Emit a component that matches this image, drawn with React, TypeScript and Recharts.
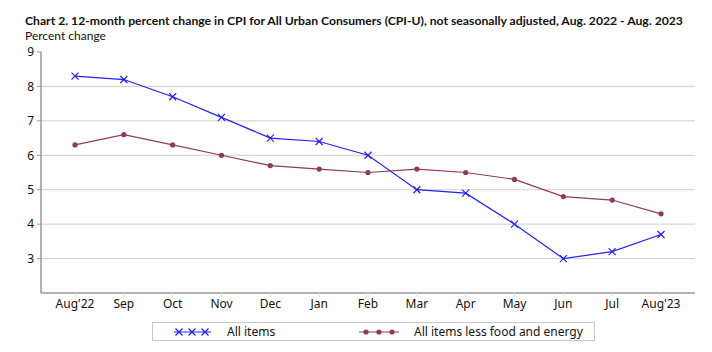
import { CartesianGrid, Line, LineChart, XAxis, YAxis } from "recharts";

const months = ["Aug'22", "Sep", "Oct", "Nov", "Dec", "Jan", "Feb", "Mar", "Apr", "May", "Jun", "Jul", "Aug'23"];
const allItems = [8.3, 8.2, 7.7, 7.1, 6.5, 6.4, 6.0, 5.0, 4.9, 4.0, 3.0, 3.2, 3.7];
const lessFoodEnergy = [6.3, 6.6, 6.3, 6.0, 5.7, 5.6, 5.5, 5.6, 5.5, 5.3, 4.8, 4.7, 4.3];
const yTicks = [3, 4, 5, 6, 7, 8, 9];

const data = months.map((m, i) => ({ month: m, all: allItems[i], core: lessFoodEnergy[i] }));

const FONT = "'Noto Sans', 'Open Sans', sans-serif";
const HEAD_FONT = "Lato, 'Noto Sans', sans-serif";
const BLUE = "#2222ee";
const MAROON = "#8e3a5e";

function CrossDot(props: any) {
  const { cx, cy } = props;
  if (cx == null || cy == null) return null;
  const s = 3.5;
  return (
    <g stroke={BLUE} strokeWidth={1.2}>
      <line x1={cx - s} y1={cy - s} x2={cx + s} y2={cy + s} />
      <line x1={cx - s} y1={cy + s} x2={cx + s} y2={cy - s} />
    </g>
  );
}

function LegendBox() {
  return (
    <div
      style={{
        position: "absolute",
        left: 152,
        top: 322,
        width: 443,
        height: 19,
        border: "1px solid #c8c8c8",
        boxSizing: "border-box",
        fontFamily: FONT,
        fontSize: 12,
        color: "#111",
      }}
    >
      <svg width={443} height={19} style={{ position: "absolute", left: 0, top: 0 }}>
        <line x1={21} y1={9} x2={58} y2={9} stroke={BLUE} strokeWidth={1.2} />
        {[26, 39, 52].map((x) => (
          <CrossDot key={x} cx={x} cy={9} />
        ))}
        <line x1={206} y1={9} x2={246} y2={9} stroke={MAROON} strokeWidth={1.2} />
        {[213, 226, 239].map((x) => (
          <circle key={x} cx={x} cy={9} r={2.6} fill={MAROON} />
        ))}
      </svg>
      <span style={{ position: "absolute", left: 74, top: 0 }}>All items</span>
      <span style={{ position: "absolute", left: 261, top: 0 }}>All items less food and energy</span>
    </div>
  );
}

export default function App() {
  return (
    <div style={{ position: "absolute", left: 0, top: 0, width: 712, height: 352, background: "#fff" }}>
      <LineChart
        width={712}
        height={352}
        data={data}
        margin={{ top: 52, right: 17, bottom: 0, left: 0 }}
        style={{ position: "absolute", left: 0, top: 0 }}
      >
        <CartesianGrid vertical={false} stroke="#cfcfcf" horizontalValues={[3, 4, 5, 6, 7, 8]} />
        <XAxis
          dataKey="month"
          padding={{ left: 34, right: 34 }}
          axisLine={{ stroke: "#999", strokeWidth: 1.5 }}
          tickLine={{ stroke: "#ddd" }}
          tickSize={4}
          tickMargin={2}
          interval={0}
          height={59}
          tick={{ fill: "#111", fontSize: 12, fontFamily: FONT }}
        />
        <XAxis
          xAxisId="top"
          dataKey="month"
          orientation="top"
          height={0}
          tick={false}
          tickLine={false}
          axisLine={{ stroke: "#999", strokeWidth: 1.5 }}
        />
        <YAxis
          domain={[2, 9]}
          ticks={yTicks}
          width={41}
          interval={0}
          axisLine={{ stroke: "#999", strokeWidth: 1.5 }}
          tickLine={{ stroke: "#999" }}
          tickSize={4}
          tickMargin={3}
          tick={{ fill: "#111", fontSize: 12, fontFamily: FONT }}
        />
        <YAxis
          yAxisId="right"
          orientation="right"
          domain={[2, 9]}
          width={0}
          tick={false}
          tickLine={false}
          axisLine={{ stroke: "#999", strokeWidth: 1.5 }}
        />
        <Line
          dataKey="all"
          stroke={BLUE}
          strokeWidth={1.2}
          dot={<CrossDot />}
          activeDot={false}
          isAnimationActive={false}
        />
        <Line
          dataKey="core"
          stroke={MAROON}
          strokeWidth={1.2}
          dot={{ r: 2.6, fill: MAROON, stroke: MAROON, strokeWidth: 0 }}
          activeDot={false}
          isAnimationActive={false}
        />
      </LineChart>
      <div
        style={{
          position: "absolute",
          left: 25,
          top: 14,
          fontFamily: HEAD_FONT,
          fontWeight: 700,
          fontSize: 12.2,
          lineHeight: "13px",
          color: "#111",
          whiteSpace: "nowrap",
        }}
      >
        Chart 2. 12-month percent change in CPI for All Urban Consumers (CPI-U), not seasonally adjusted, Aug. 2022 - Aug. 2023
      </div>
      <div
        style={{
          position: "absolute",
          left: 25,
          top: 29,
          fontFamily: HEAD_FONT,
          fontSize: 12,
          lineHeight: "14px",
          color: "#111",
          whiteSpace: "nowrap",
        }}
      >
        Percent change
      </div>
      <LegendBox />
    </div>
  );
}
